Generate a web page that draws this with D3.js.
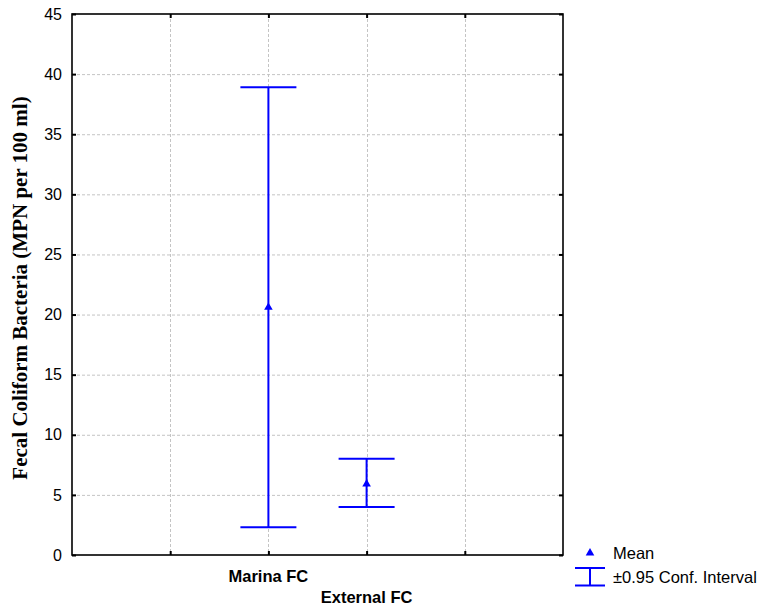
<!DOCTYPE html>
<html>
<head>
<meta charset="utf-8">
<script src="https://cdn.jsdelivr.net/npm/d3@7"></script>
<style>
  body { margin: 0; background: #fff; }
  text { font-family: Arial, "Liberation Sans", sans-serif; }
</style>
</head>
<body>
<div id="chart"></div>
<script>
// data
const categories = ['Marina FC', 'External FC'];
const categoryPos = [2, 3];          // positions on the 0..5 x scale
const means = [20.6, 5.9];
const lowers = [2.3, 4.0];
const uppers = [38.9, 8.0];
const yTicks = [0, 5, 10, 15, 20, 25, 30, 35, 40, 45];
const xTicks = [1, 2, 3, 4];

const dimensions = {
    width: 760,
    height: 605,
    margin: {top: 14, right: 197, bottom: 50, left: 72}
};
dimensions.boundWidth = dimensions.width - dimensions.margin.left - dimensions.margin.right;
dimensions.boundHeight = dimensions.height - dimensions.margin.top - dimensions.margin.bottom;

const root = d3.select('#chart')
    .append('svg')
    .attr('width', dimensions.width)
    .attr('height', dimensions.height);

const svg = root.append('g')
    .attr('transform', `translate(${dimensions.margin.left},${dimensions.margin.top})`);

const x = d3.scaleLinear().domain([0, 5]).range([0, dimensions.boundWidth]);
const y = d3.scaleLinear().domain([0, 45]).range([dimensions.boundHeight, 0]);

// grid
const grid = svg.append('g').attr('stroke', '#c4c4c4').attr('stroke-dasharray', '3,2').attr('stroke-width', 1);
grid.selectAll('.hg')
    .data(yTicks.filter(t => t > 0 && t < 45))
    .join('line')
    .attr('x1', 0).attr('x2', dimensions.boundWidth)
    .attr('y1', d => y(d) + 0.5).attr('y2', d => y(d) + 0.5);
grid.selectAll('.vg')
    .data(xTicks)
    .join('line')
    .attr('x1', d => Math.round(x(d)) + 0.5).attr('x2', d => Math.round(x(d)) + 0.5)
    .attr('y1', 0).attr('y2', dimensions.boundHeight);

// axes (ticks pointing inward)
const yAxis = svg.append('g')
    .call(d3.axisLeft(y).tickValues(yTicks).tickSize(-4).tickPadding(10));
const yAxisRight = svg.append('g')
    .attr('transform', `translate(${dimensions.boundWidth},0)`)
    .call(d3.axisRight(y).tickValues(yTicks).tickSize(-4).tickFormat(''));
const xAxis = svg.append('g')
    .attr('transform', `translate(0,${dimensions.boundHeight})`)
    .call(d3.axisBottom(x).tickValues(xTicks).tickSize(-4).tickFormat(''));
const xAxisTop = svg.append('g')
    .call(d3.axisTop(x).tickValues(xTicks).tickSize(-4).tickFormat(''));

[yAxis, yAxisRight, xAxis, xAxisTop].forEach(a => {
    a.select('.domain').remove();
    a.selectAll('.tick line').attr('stroke', '#000').attr('stroke-width', 2);
});
yAxis.selectAll('.tick text')
    .style('font-size', '16px')
    .attr('fill', '#000');

// frame
svg.append('rect')
    .attr('x', 0).attr('y', 0)
    .attr('width', dimensions.boundWidth).attr('height', dimensions.boundHeight)
    .attr('fill', 'none').attr('stroke', '#000').attr('stroke-width', 1.6);

// category labels (staggered)
svg.selectAll('.cat')
    .data(categories)
    .join('text')
    .attr('x', (d, i) => x(categoryPos[i]))
    .attr('y', (d, i) => dimensions.boundHeight + 26.5 + i * 21.5)
    .attr('text-anchor', 'middle')
    .style('font-size', '16.5px')
    .style('font-weight', 'bold')
    .text(d => d);

// y label
root.append('text')
    .attr('transform', 'translate(27,288) rotate(-90)')
    .attr('text-anchor', 'middle')
    .style('font-family', '"Liberation Serif", "Times New Roman", serif')
    .style('font-size', '21px')
    .style('font-weight', 'bold')
    .text('Fecal Coliform Bacteria (MPN per 100 ml)');

// error bars
const capHalf = 28;
const blue = '#0000ff';
const bars = svg.append('g').attr('stroke', blue).attr('stroke-width', 2);
categories.forEach((c, i) => {
    const cx = x(categoryPos[i]);
    bars.append('line').attr('x1', cx).attr('x2', cx).attr('y1', y(lowers[i])).attr('y2', y(uppers[i]));
    bars.append('line').attr('x1', cx - capHalf).attr('x2', cx + capHalf).attr('y1', y(lowers[i])).attr('y2', y(lowers[i]));
    bars.append('line').attr('x1', cx - capHalf).attr('x2', cx + capHalf).attr('y1', y(uppers[i])).attr('y2', y(uppers[i]));
});

const triangle = d3.symbol().type(d3.symbolTriangle).size(32);
svg.selectAll('.mean')
    .data(means)
    .join('path')
    .attr('d', triangle)
    .attr('transform', (d, i) => `translate(${x(categoryPos[i])},${y(d)})`)
    .attr('fill', blue);

// legend
const legend = root.append('g').attr('transform', 'translate(590,553)');
legend.append('path').attr('d', triangle).attr('fill', blue);
legend.append('text').attr('x', 23).attr('y', 6).style('font-size', '16.5px').text('Mean');
const li = legend.append('g').attr('stroke', blue).attr('stroke-width', 2);
li.append('line').attr('x1', -15).attr('x2', 15).attr('y1', 15).attr('y2', 15);
li.append('line').attr('x1', -15).attr('x2', 15).attr('y1', 32.5).attr('y2', 32.5);
li.append('line').attr('x1', 0).attr('x2', 0).attr('y1', 15).attr('y2', 32.5);
legend.append('text').attr('x', 23).attr('y', 30).style('font-size', '16.5px').text('±0.95 Conf. Interval');
</script>
</body>
</html>
